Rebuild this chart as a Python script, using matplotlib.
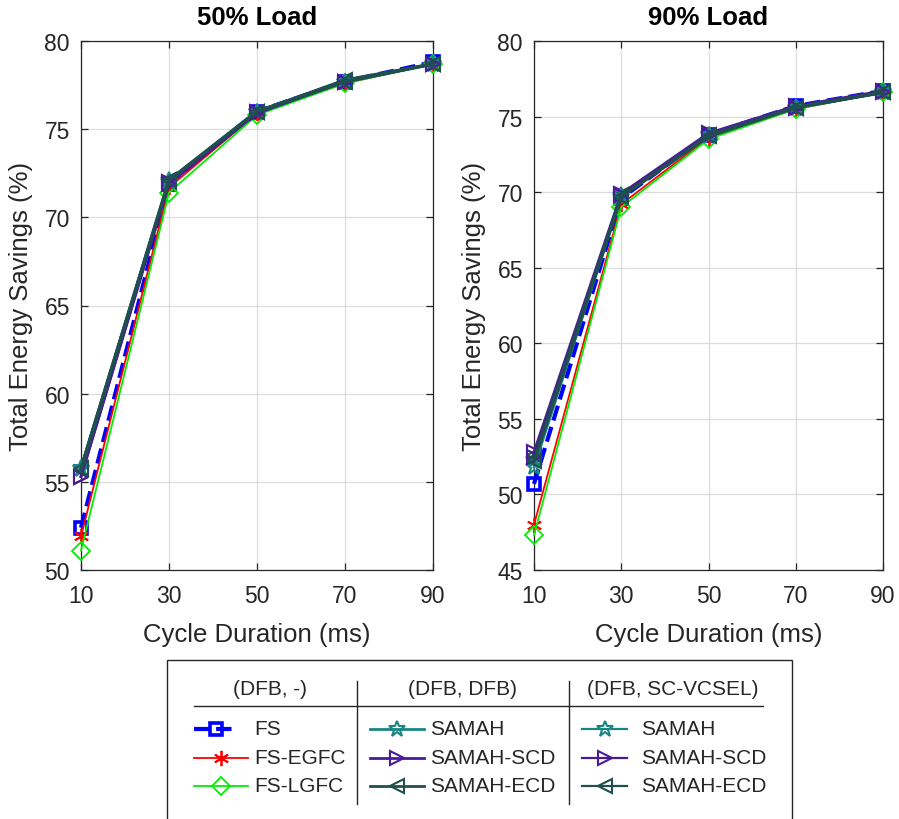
import matplotlib
matplotlib.use("Agg")
import matplotlib.pyplot as plt
from matplotlib.patches import Rectangle
from matplotlib.lines import Line2D

plt.rcParams['font.family'] = ['Liberation Sans', 'DejaVu Sans']

# ---- data -------------------------------------------------------------
cycle_ms = [10, 30, 50, 70, 90]
x_ticks = [10, 30, 50, 70, 90]

titles = ["50% Load", "90% Load"]
ylims = [(50, 80), (45, 80)]
yticks = [[50, 55, 60, 65, 70, 75, 80], [45, 50, 55, 60, 65, 70, 75, 80]]

# 50% load
fs_50 = [52.4, 71.9, 76.0, 77.7, 78.8]
fs_egfc_50 = [51.9, 71.7, 75.9, 77.6, 78.7]
fs_lgfc_50 = [51.1, 71.4, 75.8, 77.6, 78.7]
samah_dfb_50 = [55.8, 72.1, 76.0, 77.7, 78.7]
samah_scd_dfb_50 = [55.3, 72.0, 76.0, 77.7, 78.7]
samah_ecd_dfb_50 = [55.8, 72.1, 76.0, 77.8, 78.7]
samah_vcsel_50 = [55.7, 72.0, 76.0, 77.7, 78.7]
samah_scd_vcsel_50 = [55.3, 71.9, 75.9, 77.7, 78.7]
samah_ecd_vcsel_50 = [55.7, 72.1, 76.0, 77.7, 78.7]

# 90% load
fs_90 = [50.7, 69.6, 73.8, 75.7, 76.7]
fs_egfc_90 = [48.0, 69.2, 73.6, 75.5, 76.6]
fs_lgfc_90 = [47.3, 69.0, 73.5, 75.5, 76.6]
samah_dfb_90 = [52.3, 69.8, 73.8, 75.6, 76.6]
samah_scd_dfb_90 = [52.8, 69.9, 73.9, 75.7, 76.7]
samah_ecd_dfb_90 = [52.6, 69.8, 73.8, 75.6, 76.6]
samah_vcsel_90 = [51.8, 69.7, 73.8, 75.6, 76.6]
samah_scd_vcsel_90 = [52.5, 69.8, 73.8, 75.6, 76.6]
samah_ecd_vcsel_90 = [52.2, 69.7, 73.7, 75.6, 76.6]

group_titles = ["(DFB, -)", "(DFB, DFB)", "(DFB, SC-VCSEL)"]
group_labels = [["FS", "FS-EGFC", "FS-LGFC"],
                ["SAMAH", "SAMAH-SCD", "SAMAH-ECD"],
                ["SAMAH", "SAMAH-SCD", "SAMAH-ECD"]]

# ---- styles -----------------------------------------------------------
TEAL = "#1a8585"
INDIGO = "#4b1a96"
SLATE = "#1f4f4f"
TXT = "#262626"

styles = [
    [dict(color="#0000ff", ls="--", lw=3.0, marker="s", ms=9, mew=2.6),
     dict(color="#ff0000", ls="-", lw=1.3, marker=(6, 2, 0), ms=11, mew=1.3),
     dict(color="#00ee00", ls="-", lw=1.3, marker="D", ms=9, mew=1.3)],
    [dict(color=TEAL, ls="-", lw=2.0, marker="*", ms=12, mew=1.5),
     dict(color=INDIGO, ls="-", lw=2.0, marker=">", ms=10, mew=1.5),
     dict(color=SLATE, ls="-", lw=2.0, marker="<", ms=10, mew=1.5)],
    [dict(color=TEAL, ls="-", lw=2.0, marker="*", ms=12, mew=1.5),
     dict(color=INDIGO, ls="-", lw=2.0, marker=">", ms=10, mew=1.5),
     dict(color=SLATE, ls="-", lw=2.6, marker="<", ms=10, mew=1.5)],
]

series = [
    [[fs_50, fs_egfc_50, fs_lgfc_50],
     [samah_dfb_50, samah_scd_dfb_50, samah_ecd_dfb_50],
     [samah_vcsel_50, samah_scd_vcsel_50, samah_ecd_vcsel_50]],
    [[fs_90, fs_egfc_90, fs_lgfc_90],
     [samah_dfb_90, samah_scd_dfb_90, samah_ecd_dfb_90],
     [samah_vcsel_90, samah_scd_vcsel_90, samah_ecd_vcsel_90]],
]

W, H = 899, 820
fig = plt.figure(figsize=(W / 100, H / 100), dpi=100)

axes_px = [(81, 42, 433, 571), (534, 42, 883, 571)]

for k, (x0, y0, x1, y1) in enumerate(axes_px):
    ax = fig.add_axes([x0 / W, (H - y1) / H, (x1 - x0) / W, (y1 - y0) / H])
    for g in range(3):
        for s in range(3):
            st = styles[g][s]
            ax.plot(cycle_ms, series[k][g][s], color=st["color"], ls=st["ls"],
                    lw=st["lw"], marker=st["marker"], ms=st["ms"],
                    mew=st["mew"], mfc="none", clip_on=False, zorder=3 + g)
    ax.set_xlim(10, 90)
    ax.set_ylim(*ylims[k])
    ax.set_xticks(x_ticks)
    ax.set_yticks(yticks[k])
    ax.grid(True, color="#dcdcdc", lw=0.9)
    ax.set_axisbelow(True)
    ax.tick_params(direction="in", top=True, right=True, labelsize=16.5,
                   colors=TXT, length=5, width=0.9)
    ax.tick_params(axis="x", pad=10)
    ax.tick_params(axis="y", pad=8)
    for sp in ax.spines.values():
        sp.set_color(TXT)
        sp.set_linewidth(0.9)
    ax.set_title(titles[k], fontsize=18.5, fontweight="bold", color="black", pad=12)
    ax.set_xlabel("Cycle Duration (ms)", fontsize=18.5, color=TXT, labelpad=11)
    ax.set_ylabel("Total Energy Savings (%)", fontsize=18.5, color=TXT, labelpad=8)

# ---- grouped legend ---------------------------------------------------
lax = fig.add_axes([0, 0, 1, 1])
lax.set_xlim(0, W)
lax.set_ylim(H, 0)
lax.axis("off")

lax.add_patch(Rectangle((167, 661), 625, 175, fill=False, ec=TXT, lw=1.0,
                        clip_on=False))
lax.plot([194, 763], [707, 707], color=TXT, lw=1.0)
for xs in (357, 569):
    lax.plot([xs, xs], [682, 805], color=TXT, lw=1.0)

header_x = [270, 463, 673]
sample_x = [(194, 248), (370, 424), (582, 627)]
label_x = [254, 430, 641]
row_y = [730, 759, 787]

for g in range(3):
    lax.text(header_x[g], 690, group_titles[g], fontsize=15, color=TXT,
             ha="center", va="center")
    for s in range(3):
        st = styles[g][s]
        xa, xb = sample_x[g]
        if g == 0 and s == 0:
            xb = 237
        lw = st["lw"] if g < 2 else 1.6
        lax.add_line(Line2D([xa, xb], [row_y[s], row_y[s]], color=st["color"],
                            ls=st["ls"], lw=lw))
        lax.add_line(Line2D([(xa + xb) / 2], [row_y[s]], color=st["color"],
                            marker=st["marker"], ms=st["ms"], mew=st["mew"],
                            mfc="none", ls="none"))
        lax.text(label_x[g], row_y[s], group_labels[g][s], fontsize=15,
                 color=TXT, ha="left", va="center")

fig.savefig("out.png", dpi=100)
